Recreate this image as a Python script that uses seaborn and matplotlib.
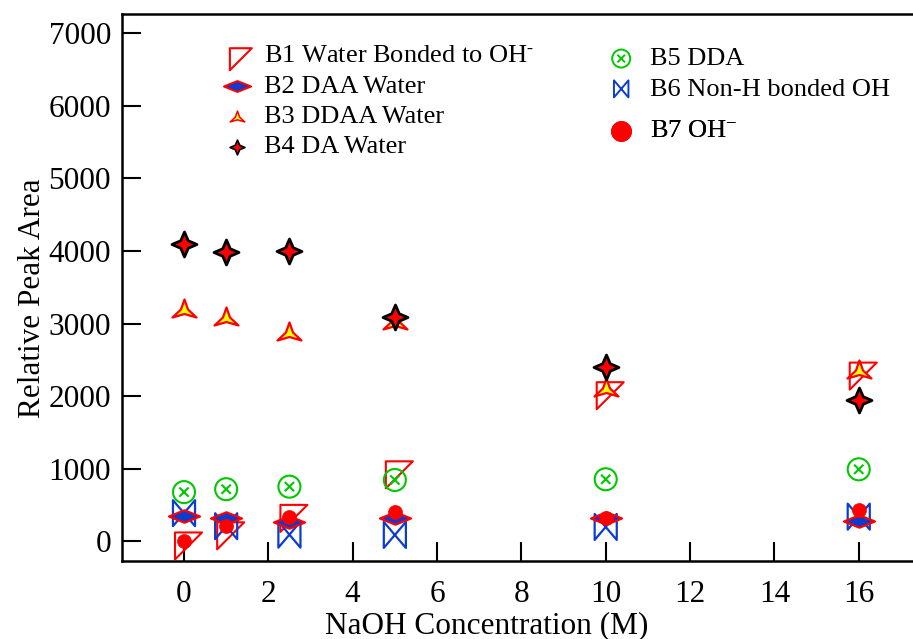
import numpy as np
import pandas as pd
import matplotlib
matplotlib.use("Agg")
import matplotlib.pyplot as plt
import seaborn as sns
from matplotlib.path import Path
from matplotlib.markers import MarkerStyle

# ---------------- data ----------------
conc = [0, 1, 2.5, 5, 10, 16]
b1_water_oh = [0, 140, 380, 980, 2070, 2340]
b2_daa = [355, 330, 273, 320, 320, 282]
b3_ddaa = [3220, 3110, 2900, 3050, 2130, 2370]
b4_da = [4100, 3985, 4000, 3090, 2410, 1950]
b5_dda = [680, 720, 755, 847, 857, 994]
b6_nonh = [390, 210, 94, 90, 200, 342]
b7_oh = [10, 213, 342, 410, 320, 434]

labels = [
    r"B1 Water Bonded to OH$^{\text{-}}$",
    "B2 DAA Water",
    "B3 DDAA Water",
    "B4 DA Water",
    "B5 DDA",
    "B6 Non-H bonded OH",
    r"B7 OH$^{-}$",
]

# ---------------- style ----------------
sns.set_style("white")
plt.rcParams["font.family"] = ["Liberation Serif", "DejaVu Serif"]
plt.rcParams["mathtext.fontset"] = "custom"
plt.rcParams["mathtext.rm"] = "Liberation Serif"
plt.rcParams["mathtext.it"] = "Liberation Serif:italic"
plt.rcParams["mathtext.bf"] = "Liberation Serif:bold"
plt.rcParams["text.color"] = "black"
plt.rcParams["axes.labelcolor"] = "black"
plt.rcParams["xtick.color"] = "black"
plt.rcParams["ytick.color"] = "black"

RED = "#ff0000"
BLUE = "#0a3cd2"
GREEN = "#00c800"
YELLOW = "#ffff00"

# ---------------- markers ----------------
tri_right = Path([(-1/3, 1/3), (2/3, 1/3), (-1/3, -2/3), (-1/3, 1/3)],
                 [Path.MOVETO, Path.LINETO, Path.LINETO, Path.CLOSEPOLY])
diamond_flat = Path([(-1, 0), (0, 0.4), (1, 0), (0, -0.4), (-1, 0)],
                    [Path.MOVETO, Path.LINETO, Path.LINETO, Path.LINETO, Path.CLOSEPOLY])
concave_tri = Path([(0, 9), (3.5, -1), (12, -9), (0, -5.5), (-12, -9), (-3.5, -1), (0, 9)],
                   [Path.MOVETO] + [Path.LINETO] * 5 + [Path.CLOSEPOLY])
star4 = Path([(0, 1), (0.3, 0.3), (1, 0), (0.3, -0.3), (0, -1),
              (-0.3, -0.3), (-1, 0), (-0.3, 0.3), (0, 1)],
             [Path.MOVETO] + [Path.LINETO] * 7 + [Path.CLOSEPOLY])
circ_x = Path.make_compound_path(
    Path.unit_circle(),
    Path([(-0.42, -0.42), (0.42, 0.42)], [Path.MOVETO, Path.LINETO]),
    Path([(-0.42, 0.42), (0.42, -0.42)], [Path.MOVETO, Path.LINETO]),
)
bowtie = Path([(-0.85, 1), (-0.85, -1), (0.85, 1), (0.85, -1), (-0.85, 1)],
              [Path.MOVETO, Path.LINETO, Path.LINETO, Path.LINETO, Path.CLOSEPOLY])

df = pd.DataFrame({"conc": conc, "B1": b1_water_oh, "B2": b2_daa, "B3": b3_ddaa,
                   "B4": b4_da, "B5": b5_dda, "B6": b6_nonh, "B7": b7_oh})

# key: (marker, size, face, edge, lw, legend size, legend lw)
specs = {
    "B1": (tri_right, 672, "none", RED, 1.5, 445, 1.5),
    "B2": (diamond_flat, 498, BLUE, RED, 1.6, 378, 1.5),
    "B3": (concave_tri, 300, YELLOW, RED, 1.6, 110, 1.1),
    "B4": (star4, 324, RED, "black", 2.0, 115, 1.2),
    "B5": (circ_x, 251, "none", GREEN, 1.5, 168, 1.4),
    "B6": (bowtie, 350, "none", BLUE, 1.6, 150, 1.4),
    "B7": ("o", 101, RED, RED, 0.5, 207, 0.5),
}
draw_order = ["B1", "B3", "B4", "B6", "B2", "B5", "B7"]
keys = ["B1", "B2", "B3", "B4", "B5", "B6", "B7"]

fig = plt.figure(figsize=(9.13, 6.39), dpi=100)
ax = fig.add_axes([122 / 913, 1 - 561 / 639, 1 - 122 / 913 + 0.002, (561 - 14) / 639])

handles = {}
for i, k in enumerate(draw_order):
    mk, s, fc, ec, lw, _, _ = specs[k]
    m = MarkerStyle(mk) if isinstance(mk, Path) else mk
    n_before = len(ax.collections)
    sns.scatterplot(data=df, x="conc", y=k, ax=ax, marker=m, s=s,
                    color=ec, edgecolor=ec, linewidth=lw, legend=False, zorder=3 + i)
    coll = ax.collections[n_before]
    coll.set_facecolor(fc)
    coll.set_edgecolor(ec)
    coll.set_linewidth(lw)
    coll.set_label(labels[keys.index(k)])
    handles[k] = coll

ax.set_xlim(-1.47, 17.33)
ax.set_ylim(-269, 7266)
ax.set_xticks([0, 2, 4, 6, 8, 10, 12, 14, 16])
ax.set_yticks([0, 1000, 2000, 3000, 4000, 5000, 6000, 7000])

ax.tick_params(axis="both", direction="in", length=14, width=1.5,
               labelsize=22.5, colors="black", bottom=True, left=True,
               top=False, right=False)
ax.tick_params(axis="y", pad=8)
ax.tick_params(axis="x", pad=14)
for sp in ["left", "bottom", "top"]:
    ax.spines[sp].set_linewidth(1.8)
    ax.spines[sp].set_color("black")
ax.spines["right"].set_visible(False)

ax.set_xlabel("NaOH Concentration (M)", fontsize=22.5, color="black")
ax.set_ylabel("Relative Peak Area", fontsize=22.5, color="black")
ax.xaxis.set_label_coords(0.46, -0.091)
ax.yaxis.set_label_coords(-0.095, 0.48)

leg_kw = dict(frameon=False, fontsize=19, borderpad=0, borderaxespad=0,
              handlelength=1.0, labelspacing=0.26,
              bbox_transform=fig.transFigure, loc="upper left", scatterpoints=1)


def make_leg(ks, anchor, htp):
    lg = ax.legend([handles[k] for k in ks], [labels[keys.index(k)] for k in ks],
                   bbox_to_anchor=anchor, handletextpad=htp, **leg_kw)
    for h, k in zip(lg.legend_handles, ks):
        h.set_sizes([specs[k][5]])
        h.set_linewidth(specs[k][6])
    for t in lg.get_texts():
        t.set_color("black")
    ax.add_artist(lg)
    return lg


make_leg(["B1", "B2", "B3", "B4"], (224 / 913, 1 - 44 / 639), 0.5)
make_leg(["B5", "B6"], (608 / 913, 1 - 47 / 639), 0.6)
make_leg(["B7"], (608 / 913, 1 - 119 / 639), 0.6)

fig.savefig("out.png", dpi=100)
